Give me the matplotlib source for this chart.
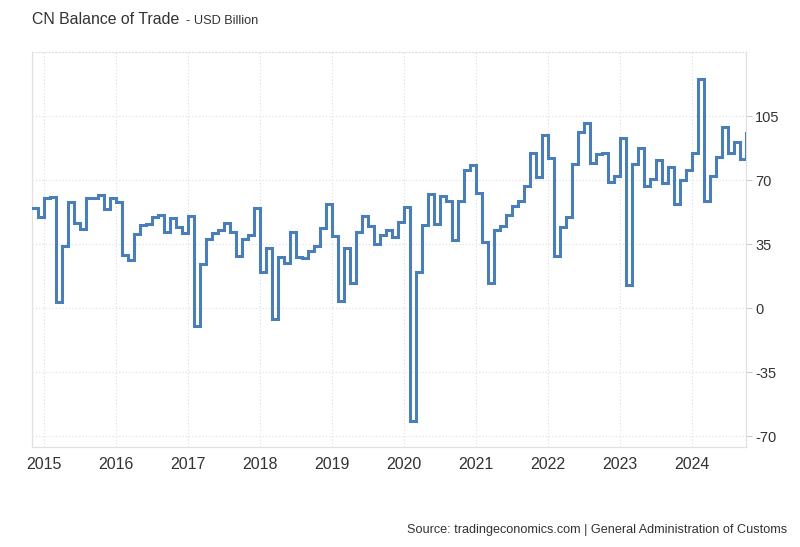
import matplotlib
matplotlib.use("Agg")
import matplotlib.pyplot as plt
import matplotlib.dates as mdates
import numpy as np
import pandas as pd

plt.rcParams['font.family'] = ['Liberation Sans', 'DejaVu Sans']
plt.rcParams['axes.unicode_minus'] = False

# monthly balance of trade, USD billion, Nov 2014 .. Oct 2024
months = pd.date_range("2014-11-01", "2024-10-01", freq="MS")
balance = [
    54.5, 49.6,
    60.0, 60.6, 3.1, 34.1, 58.0, 46.5, 43.0, 60.2, 60.3, 61.6, 54.1, 60.1,   # 2015
    58.0, 29.0, 26.5, 40.5, 45.5, 46.2, 49.5, 51.0, 41.5, 49.0, 44.5, 40.8,  # 2016
    50.5, -10.0, 23.9, 38.0, 40.8, 42.5, 46.5, 41.5, 28.5, 38.0, 39.8, 54.5, # 2017
    19.5, 33.0, -5.8, 28.0, 24.5, 41.6, 28.0, 27.5, 31.3, 34.0, 43.5, 57.1,  # 2018
    39.2, 4.1, 32.7, 13.8, 41.7, 50.5, 45.0, 34.8, 39.7, 42.8, 38.7, 46.8,   # 2019
    55.0, -62.0, 19.9, 45.3, 62.5, 45.8, 61.5, 58.5, 37.0, 58.4, 75.4, 78.2, # 2020
    63.0, 36.0, 13.5, 42.5, 45.0, 51.0, 56.0, 58.3, 66.8, 84.5, 71.7, 94.5,  # 2021
    82.0, 28.5, 44.5, 49.5, 78.5, 96.5, 101.0, 79.4, 84.0, 84.5, 69.0, 72.0, # 2022
    93.0, 12.7, 79.0, 87.5, 66.5, 70.8, 81.0, 68.4, 77.0, 57.0, 69.8, 75.5,  # 2023
    85.0, 125.2, 58.6, 72.4, 82.6, 99.1, 84.7, 91.0, 81.7, 95.7,             # 2024
]
yticks = [-70, -35, 0, 35, 70, 105]
years = list(range(2015, 2025))

fig = plt.figure(figsize=(8, 5.47), dpi=100)
ax = fig.add_axes([32 / 800, 1 - 447 / 547, (746 - 32) / 800, (447 - 52) / 547])

ax.step(months, balance, where="post", color="#4a7ebb", lw=2.2,
        solid_joinstyle="miter", zorder=3)

ax.set_xlim(months[0], months[-1])
ax.set_ylim(-76, 140)

ax.set_xticks([pd.Timestamp(f"{y}-01-01") for y in years])
ax.xaxis.set_major_formatter(mdates.DateFormatter("%Y"))
ax.set_yticks(yticks)
ax.yaxis.tick_right()

ax.grid(True, color="#dddddd", linestyle=(0, (1, 2)), lw=0.8)
ax.tick_params(axis="x", length=0, pad=7, labelsize=11.5, labelcolor="#333333")
ax.tick_params(axis="y", length=4.5, width=0.8, color="#cccccc", pad=2,
               labelsize=10.5, labelcolor="#333333")

for side in ["left", "right", "bottom"]:
    ax.spines[side].set_color("#e0e0e0")
    ax.spines[side].set_linewidth(0.9)
ax.spines["top"].set_color("#dddddd")
ax.spines["top"].set_linestyle((0, (1, 2)))
ax.spines["top"].set_linewidth(0.8)

fig.text(32 / 800, 1 - 20 / 547, "CN Balance of Trade", fontsize=11.4,
         color="#333333", va="center", ha="left")
fig.text(186 / 800, 1 - 21 / 547, "- USD Billion", fontsize=9.2,
         color="#333333", va="center", ha="left")
fig.text(787 / 800, 1 - 530 / 547,
         "Source: tradingeconomics.com | General Administration of Customs",
         fontsize=9.1, color="#333333", va="center", ha="right")

fig.savefig("out.png", dpi=100)
